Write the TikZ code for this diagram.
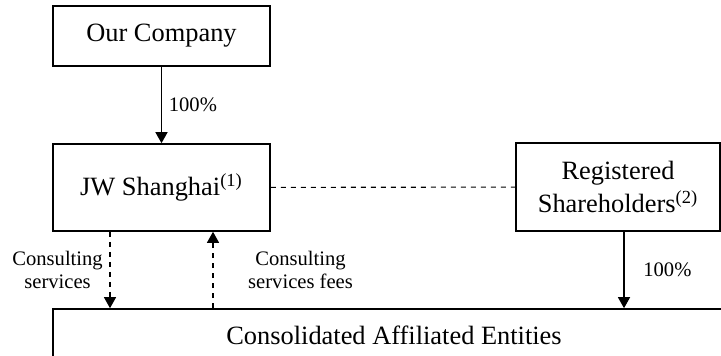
\documentclass[tikz,border=0pt]{standalone}
\usepackage{fontspec}
\setmainfont{Liberation Serif}
\usetikzlibrary{arrows.meta}

\begin{document}
\begin{tikzpicture}[x=0.5pt, y=-0.5pt,
        box/.style={draw, line width=0.8pt, fill=white, inner sep=0pt,
            font=\fontsize{13.2}{16.5}\selectfont, align=center},
        flow/.style={line width=0.7pt, -{Triangle[width=6pt, length=5.5pt]}},
        tie/.style={line width=0.55pt, dash pattern=on 2.5pt off 2.5pt},
        lbl/.style={font=\fontsize{10.3}{11.5}\selectfont, align=center}]
        \useasboundingbox (0, 0) rectangle (721, 356);

        \node[box, minimum width=108.5pt, minimum height=30pt] (company) at (161.5, 36) {Our Company};
        \node[box, minimum width=108.5pt, minimum height=43.5pt] (jw) at (161.5, 187.5) {JW Shanghai\textsuperscript{(1)}};
        \node[box, minimum width=102pt, minimum height=44pt] (holders) at (618, 187) {Registered\\Shareholders\textsuperscript{(2)}};
        \node[box, minimum width=341pt, minimum height=26pt] (vie) at (394, 335) {Consolidated Affiliated Entities};

        \draw[flow] (company) -- (jw) node[lbl, midway, right] (own-jw) {100\%};
        \draw[tie] (jw) -- (holders); % contractual link

        \draw[flow, tie] ([xshift=-25.75pt]jw.south) -- ([xshift=-25.75pt]jw.south |- vie.north)
            node[lbl, midway, left] (svc) {Consulting\\services};
        \draw[flow, tie] ([xshift=25.75pt]jw.south |- vie.north) -- ([xshift=25.75pt]jw.south)
            node[lbl, midway, right=14pt] (fees) {Consulting\\services fees};

        \draw[flow] ([xshift=3pt]holders.south) -- ([xshift=3pt]holders.south |- vie.north)
            node[lbl, midway, right=6pt] (own-vie) {100\%};
    \end{tikzpicture}
\end{document}
